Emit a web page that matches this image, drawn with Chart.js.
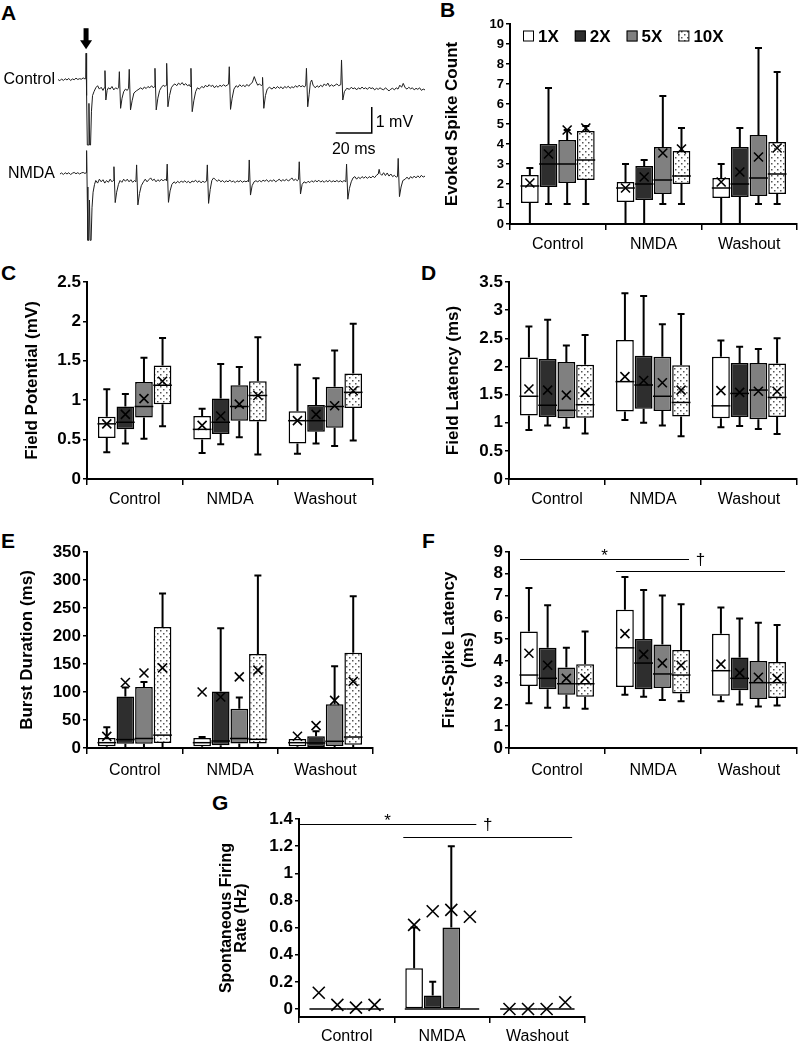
<!DOCTYPE html>
<html><head><meta charset="utf-8">
<script src="https://cdn.jsdelivr.net/npm/chart.js@4.4.1/dist/chart.umd.min.js"></script>
<style>
body{margin:0;background:#fff;width:800px;height:1046px;position:relative;overflow:hidden;font-family:'Liberation Sans',Arial,sans-serif;}
canvas{position:absolute;}
.lbl{position:absolute;font:bold 21px 'Liberation Sans',Arial,sans-serif;line-height:21px;color:#000;}
</style></head><body>
<div class="lbl" style="left:1px;top:2px">A</div>
<div class="lbl" style="left:440px;top:-1px">B</div>
<div class="lbl" style="left:1px;top:262px">C</div>
<div class="lbl" style="left:421px;top:262px">D</div>
<div class="lbl" style="left:1px;top:530px">E</div>
<div class="lbl" style="left:422px;top:530px">F</div>
<div class="lbl" style="left:212px;top:792px">G</div>
<canvas id="cA" width="440" height="230" style="left:0;top:20px"></canvas>
<canvas id="cB" width="360" height="262" style="left:440px;top:0"></canvas>
<canvas id="cC" width="380" height="258" style="left:0;top:262px"></canvas>
<canvas id="cD" width="400" height="258" style="left:400px;top:262px"></canvas>
<canvas id="cE" width="380" height="258" style="left:0;top:530px"></canvas>
<canvas id="cF" width="400" height="258" style="left:400px;top:530px"></canvas>
<canvas id="cG" width="400" height="256" style="left:200px;top:790px"></canvas>
<script>
// ---------------- DATA ----------------
const groups = ['Control', 'NMDA', 'Washout'];
const doses = ['1X', '2X', '5X', '10X'];
const traceNames = ['Control', 'NMDA'];

// Panel A traces: [time ms, voltage mV]
const ctrlTrace = [[0,0.02],[1,-0.03],[2,0.04],[3,-0.02],[4,0.05],[5,0.0],[6,0.06],[7,-0.02],[8,0.04],[9,0.01],[10,0.07],[11,0.02],[12,0.05],[13,0.03],[14,0.08],[15,0.04],
[15.4,0.05],[15.6,1.03],[15.9,-0.6],[16.3,-2.5],[16.8,-2.5],[17.2,-0.9],[17.6,-2.5],[18.1,-2.5],[18.6,-1.2],[19.2,-0.6],[20,-0.45],[21,-0.3],[22,-0.22],[23,-0.35],[24,-0.28],[25,-0.4],[25.7,-0.3],
[26.1,0.36],[26.6,-0.77],[27.3,-0.4],[28,-0.3],[29,-0.35],[30,-0.25],[31,-0.38],[32,-0.3],[33,-0.34],[33.7,-0.3],
[34.1,0.32],[34.8,-1.09],[35.6,-0.7],[36.5,-0.45],[37.5,-0.35],[38.5,-0.4],[39.2,-0.32],
[39.6,0.41],[40.3,-1.15],[41.2,-0.8],[42.2,-0.5],[43.5,-0.42],[45,-0.35],[46,-0.3],[47,-0.36],[48,-0.27],[49,-0.33],[50,-0.25],[51,-0.3],[52,-0.22],[53,-0.3],[53.5,-0.26],
[53.9,0.45],[54.6,-1.15],[55.5,-0.7],[56.5,-0.4],[57.5,-0.28],[58.5,-0.2],[59.5,-0.25],[60.1,-0.2],
[60.4,0.64],[61.1,-1.03],[62,-0.6],[63,-0.3],[64,-0.2],[65,-0.15],[66,-0.22],[67,-0.12],[68,-0.18],[69,-0.1],[70,-0.2],[71,-0.14],[72,-0.22],[73,-0.18],[73.5,-0.25],
[73.9,0.45],[74.6,-1.22],[75.5,-0.8],[76.5,-0.45],[77.5,-0.3],[78.5,-0.35],[80,-0.25],[81,-0.3],[82,-0.2],[83,-0.27],[84,-0.18],[85,-0.25],[86,-0.2],[87,-0.3],[88,-0.22],[89,-0.28],[90,-0.2],[91,-0.25],[92,-0.18],[93,-0.24],[94,-0.2],[94.8,-0.16],
[95.2,0.51],[95.9,-1.13],[96.8,-0.7],[97.8,-0.35],[99,-0.22],[100,-0.28],[101,-0.18],[102,-0.25],[103,-0.2],[104,-0.26],[105,-0.17],[106,-0.24],[107,-0.15],[108,-0.1],[109.1,0.13],[110,-0.05],[111,-0.2],[112,-0.15],[113,-0.22],[113.4,-0.18],
[113.7,0.1],[114.4,-1.09],[115.3,-0.6],[116.3,-0.35],[117.5,-0.28],[119,-0.35],[120,-0.27],[121,-0.33],[122,-0.25],[123,-0.32],[124,-0.26],[125,-0.34],[126,-0.25],[127,-0.3],[128,-0.24],[129,-0.32],[130,-0.26],[131,-0.3],[132,-0.22],[133,-0.28],[134,-0.2],[135,-0.26],[136,-0.22],[137,-0.27],[137.7,-0.2],
[138.1,0.45],[138.8,-1.03],[139.6,-0.55],[140.3,-0.1],[141,0.0],[141.8,-0.2],[143,-0.3],[144,-0.22],[145,-0.28],[146,-0.2],[147,-0.26],[148,-0.15],[149,-0.22],[150,-0.12],[151,-0.25],[152,-0.18],[153,-0.24],[154,-0.2],[155,-0.15],[156,-0.22],[157.2,-0.18],
[157.6,0.77],[158.3,-0.77],[159.2,-0.45],[160.5,-0.32],[162,-0.36],[163,-0.28],[164,-0.34],[165,-0.3],[166,-0.38],[167,-0.3],[168,-0.35],[169,-0.27],[170,-0.34],[171,-0.3],[172,-0.36],[173,-0.28],[174,-0.33],[175,-0.3],[176,-0.38],[177,-0.32],[178,-0.36],[179,-0.3],[180,-0.35],[181,-0.38],[182,-0.3],[183,-0.36],[184,-0.42],[185,-0.35],[186,-0.32],[187,-0.38],[188,-0.3],[189,-0.35],[190,-0.2],[191,-0.28],[191.9,-0.13],[193,-0.3],[194,-0.35],[195,-0.28],[196,-0.34],[197,-0.3],[198,-0.38],[199,-0.32],[200,-0.36],[201,-0.3],[202,-0.4],[203,-0.35],[204,-0.38]];

const nmdaTrace = [[1.1,0.0],[2,0.04],[3,-0.02],[4,0.05],[5,0.0],[6,0.05],[7,-0.02],[8,0.03],[9,0.06],[10,0.01],[11,0.05],[12,0.0],[13,0.04],[14,0.06],[15,0.02],[15.6,0.05],
[15.9,0.9],[16.2,-0.5],[16.6,-2.55],[17.1,-2.55],[17.5,-1.0],[17.9,-2.55],[18.4,-2.55],[18.9,-1.3],[19.5,-0.7],[20.3,-0.4],[21,-0.25],[22,-0.35],[23,-0.2],[24,-0.3],[25,-0.22],[26,-0.35],[27,-0.25],[28,-0.32],[29,-0.2],[30,-0.3],[30.7,-0.25],
[31.1,0.28],[31.8,-1.1],[32.6,-0.7],[33.6,-0.4],[34.5,-0.25],[35.5,-0.32],[36.5,-0.2],[37.5,-0.28],[38.5,-0.2],[39.5,-0.3],[40.5,-0.22],[41.5,-0.32],[42.5,-0.25],[43.3,-0.3],
[43.7,0.35],[44.4,-1.19],[45.3,-0.75],[46.3,-0.45],[47.5,-0.3],[48.5,-0.2],[49.5,-0.3],[50.5,-0.22],[51.5,-0.15],[52.5,-0.25],[53.5,-0.2],[54.5,-0.3],[55.5,-0.22],[56.5,-0.28],[57.5,-0.2],[58.5,-0.27],[59.5,-0.2],[60.3,-0.26],
[60.7,0.38],[61.4,-1.09],[62.3,-0.65],[63.3,-0.4],[64.5,-0.3],[65.5,-0.36],[66.5,-0.28],[67.5,-0.34],[68.5,-0.27],[69.5,-0.32],[70.5,-0.26],[71.5,-0.33],[72.5,-0.28],[73.5,-0.35],[74.5,-0.27],[75.5,-0.3],[76.5,-0.24],[77.5,-0.32],[78.5,-0.26],[79.5,-0.34],[80.5,-0.28],[81.5,-0.32],[82.6,-0.27],
[83,0.35],[83.7,-1.13],[84.6,-0.6],[85.5,-0.25],[86.5,-0.15],[87.5,-0.22],[88.5,-0.28],[89.5,-0.22],[90.5,-0.3],[91.5,-0.25],[92.5,-0.32],[93.5,-0.26],[94.5,-0.3],[95.5,-0.24],[96.5,-0.3],[97.5,-0.27],[98.5,-0.33],[99.5,-0.26],[100.5,-0.3],[101.5,-0.25],[102.5,-0.32],[103.5,-0.27],[104.5,-0.3],[105.5,-0.26],[105.9,-0.3],
[106.3,0.54],[107,-0.81],[107.9,-0.45],[109,-0.3],[110,-0.26],[111,-0.3],[112,-0.25],[113,-0.3],[114,-0.24],[115,-0.28],[116,-0.22],[117,-0.3],[118,-0.24],[119,-0.28],[120,-0.22],[121,-0.3],[122,-0.25],[123,-0.2],[124,-0.28],[125,-0.22],[126,-0.26],[127,-0.2],[128,-0.27],[129,-0.22],[130,-0.15],[131,-0.25],[132,-0.2],[133,-0.26],[133.7,-0.2],
[134.1,0.47],[134.8,-0.77],[135.7,-0.4],[136.8,-0.3],[138,-0.35],[139,-0.28],[140,-0.33],[141,-0.26],[142,-0.31],[143,-0.25],[144,-0.3],[145,-0.24],[146,-0.31],[147,-0.26],[148,-0.32],[149,-0.25],[150,-0.3],[151,-0.24],[152,-0.31],[153,-0.26],[154,-0.3],[155,-0.25],[156,-0.3],[157,-0.26],[158,-0.31],[159,-0.25],[160,-0.3],
[160.4,0.38],[161.1,-0.97],[162,-0.55],[163,-0.3],[164,-0.15],[165,-0.1],[166,-0.2],[167,-0.12],[168,-0.18],[169,-0.1],[170,-0.16],[171,-0.1],[172,-0.17],[173,-0.1],[174,-0.15],[175,-0.08],[176,-0.14],[177,-0.05],[178,0.0],[178.5,0.18],[179,0.02],[180,-0.05],[181,0.05],[182,-0.06],[183,0.04],[184,-0.08],[185,0.0],[186,-0.1],[187,-0.05],[188,-0.12],[188.7,-0.1],
[189.1,0.6],[189.8,-0.87],[190.7,-0.5],[191.7,-0.25],[193,-0.2],[194,-0.12],[195,-0.2],[196,-0.1],[197,-0.16],[198,-0.08],[199,-0.15],[200,-0.07],[201,-0.14],[202,-0.05],[203,-0.12],[204,-0.08]];

// Box-plot statistics: rows = doses (1X,2X,5X,10X), columns = groups (Control,NMDA,Washout)
// B: Evoked Spike Count
const spikeMin  = [[0,0,0],[1,0,0],[1,1,1],[1,1,1]];
const spikeQ1   = [[1.05,1.1,1.3],[1.85,1.2,1.35],[2.05,1.5,1.4],[2.2,2.0,1.5]];
const spikeMed  = [[1.9,1.8,1.8],[3.0,2.0,2.0],[3.0,2.2,2.3],[3.2,2.4,2.5]];
const spikeQ3   = [[2.45,2.1,2.3],[4.0,2.9,3.85],[4.2,3.85,4.45],[4.65,3.65,4.1]];
const spikeMax  = [[2.8,3.0,3.0],[6.8,3.2,4.8],[4.7,6.4,8.8],[4.9,4.8,7.6]];
const spikeMean = [[2.05,1.8,2.1],[3.5,2.35,2.6],[4.7,3.55,3.35],[4.8,3.75,3.8]];
// C: Field Potential (mV)
const fpMin  = [[0.34,0.33,0.32],[0.45,0.44,0.45],[0.51,0.53,0.42],[0.67,0.31,0.49]];
const fpQ1   = [[0.52,0.50,0.45],[0.63,0.57,0.60],[0.78,0.74,0.65],[0.95,0.73,0.90]];
const fpMed  = [[0.70,0.63,0.74],[0.72,0.72,0.74],[0.92,0.92,0.92],[1.19,1.06,1.10]];
const fpQ3   = [[0.79,0.80,0.86],[0.92,1.02,0.94],[1.23,1.19,1.17],[1.44,1.24,1.34]];
const fpMax  = [[1.14,0.89,1.45],[1.08,1.46,1.28],[1.54,1.42,1.63],[1.79,1.80,1.97]];
const fpMean = [[0.70,0.68,0.74],[0.82,0.80,0.82],[1.02,0.95,0.93],[1.24,1.06,1.12]];
// D: Field Latency (ms)
const flMin  = [[0.87,1.05,0.92],[0.95,1.0,0.94],[0.91,0.95,0.89],[0.81,0.76,0.80]];
const flQ1   = [[1.13,1.20,1.08],[1.10,1.25,1.10],[1.08,1.21,1.06],[1.09,1.11,1.10]];
const flMed  = [[1.47,1.73,1.30],[1.31,1.67,1.52],[1.22,1.47,1.58],[1.32,1.36,1.45]];
const flQ3   = [[2.16,2.47,2.17],[2.13,2.19,2.06],[2.08,2.17,2.06],[2.03,2.02,2.05]];
const flMax  = [[2.71,3.30,2.46],[2.83,3.25,2.35],[2.37,2.75,2.31],[2.56,2.93,2.50]];
const flMean = [[1.60,1.82,1.57],[1.58,1.75,1.54],[1.49,1.71,1.56],[1.54,1.58,1.56]];
// E: Burst Duration (ms)
const bdMin  = [[0,0,0],[0,0,0],[0,0,0],[0,0,0]];
const bdQ1   = [[3,3,3],[7.7,5,2],[7.7,8,3.5],[9,8,6]];
const bdMed  = [[9.5,9.5,9.5],[15,12.5,9],[17,17,12],[23,15.5,19.6]];
const bdQ3   = [[18,18,16],[92,101,21],[109,70,78],[216,168,170]];
const bdMax  = [[37,19.6,16],[108,214,30],[118,90,146],[276,308,271]];
const bdMean = [[20.8,100,21],[117,91,40],[134,127,85],[143,139,119]];
// F: First-Spike Latency (ms)
const fsMin  = [[2.05,2.45,2.15],[1.85,2.35,2.0],[1.85,2.2,1.9],[1.8,2.15,1.95]];
const fsQ1   = [[2.85,2.8,2.4],[2.7,2.7,2.65],[2.45,2.75,2.25],[2.35,2.5,2.3]];
const fsMed  = [[3.35,4.6,3.55],[3.2,3.9,3.2],[2.95,3.4,3.0],[2.95,3.35,3.0]];
const fsQ3   = [[5.35,6.35,5.25],[4.6,5.0,4.15],[3.7,4.75,4.0],[3.85,4.5,3.95]];
const fsMax  = [[7.35,7.85,6.45],[6.55,7.25,5.95],[4.6,7.0,5.75],[5.35,6.6,5.65]];
const fsMean = [[4.35,5.25,3.85],[3.8,4.3,3.45],[3.2,3.9,3.25],[3.2,3.8,3.2]];
// G: Spontaneous Firing Rate (Hz)
const sfMin  = [[0,0,0],[0,0,0],[0,0,0],[0,0,0]];
const sfQ1   = [[0,0,0],[0,0,0],[0,0,0],[0,0,0]];
const sfMed  = [[0,0,0],[0,0,0],[0,0,0],[0,0,0]];
const sfQ3   = [[0,0.3,0],[0,0.1,0],[0,0.6,0],[0,0,0]];
const sfMax  = [[0,0.6,0],[0,0.2,0],[0,1.2,0],[0,0,0]];
const sfMean = [[0.12,0.62,0.0],[0.03,0.72,0.0],[0.01,0.73,0.0],[0.03,0.68,0.05]];

// ---------------- RENDERING ----------------
const FONT = "'Liberation Sans', Arial, sans-serif";
Chart.defaults.font.family = FONT;
Chart.defaults.color = '#000';

function dotPattern(ctx) {
  const pc = document.createElement('canvas'); pc.width = 6; pc.height = 6;
  const p = pc.getContext('2d');
  p.fillStyle = '#fff'; p.fillRect(0, 0, 6, 6);
  p.fillStyle = '#555'; p.fillRect(1, 1, 1.5, 1.5); p.fillRect(4, 4, 1.5, 1.5);
  return ctx.createPattern(pc, 'repeat');
}

const boxPlugin = {
  id: 'boxPlot',
  beforeDatasetsDraw(chart) {
    const { ctx } = chart; const y = chart.scales.y;
    ctx.save(); ctx.strokeStyle = '#000'; ctx.lineWidth = 2;
    chart.data.datasets.forEach((ds, di) => {
      chart.getDatasetMeta(di).data.forEach((bar, i) => {
        const [q1, q3] = ds.data[i];
        const seg = (from, to) => {
          if (Math.abs(to - from) < 1e-9) return;
          const y1 = y.getPixelForValue(from), y2 = y.getPixelForValue(to);
          ctx.beginPath(); ctx.moveTo(bar.x, y1); ctx.lineTo(bar.x, y2);
          ctx.moveTo(bar.x - 3.5, y2); ctx.lineTo(bar.x + 3.5, y2); ctx.stroke();
        };
        seg(q3, ds.whiskerMax[i]); seg(q1, ds.whiskerMin[i]);
      });
    });
    ctx.restore();
  },
  afterDatasetsDraw(chart, args, opts) {
    const { ctx } = chart; const y = chart.scales.y; const s = opts.mark || 4.5;
    ctx.save(); ctx.strokeStyle = '#000';
    chart.data.datasets.forEach((ds, di) => {
      chart.getDatasetMeta(di).data.forEach((bar, i) => {
        const ym = y.getPixelForValue(ds.median[i]);
        ctx.lineWidth = 1.5;
        ctx.beginPath(); ctx.moveTo(bar.x - bar.width / 2 - 0.5, ym); ctx.lineTo(bar.x + bar.width / 2 + 0.5, ym); ctx.stroke();
        const yy = y.getPixelForValue(ds.mean[i]);
        ctx.lineWidth = 1.6;
        ctx.beginPath();
        ctx.moveTo(bar.x - s, yy - s); ctx.lineTo(bar.x + s, yy + s);
        ctx.moveTo(bar.x - s, yy + s); ctx.lineTo(bar.x + s, yy - s);
        ctx.stroke();
      });
    });
    ctx.restore();
  }
};

const legendPlugin = {
  id: 'boxLegend',
  afterDraw(chart, args, opts) {
    if (!opts.show) return;
    const { ctx } = chart;
    let x = chart.chartArea.left + opts.dx; const yc = chart.chartArea.top + opts.dy;
    ctx.save(); ctx.font = 'bold 17px ' + FONT; ctx.textBaseline = 'middle'; ctx.textAlign = 'left';
    chart.data.datasets.forEach(ds => {
      ctx.fillStyle = ds.backgroundColor; ctx.fillRect(x, yc - 5.5, 11, 11);
      ctx.strokeStyle = '#000'; ctx.lineWidth = 1; ctx.strokeRect(x + 0.5, yc - 5, 10, 10);
      ctx.fillStyle = '#000'; ctx.fillText(ds.label, x + 15, yc + 1);
      x += 15 + ctx.measureText(ds.label).width + 16;
    });
    ctx.restore();
  }
};

const sigPlugin = {
  id: 'sig',
  afterDatasetsDraw(chart, args, opts) {
    if (!opts.lines) return;
    const { ctx } = chart; const x = chart.scales.x, y = chart.scales.y;
    ctx.save(); ctx.strokeStyle = '#000'; ctx.fillStyle = '#000'; ctx.lineWidth = 1;
    ctx.font = '17px ' + FONT; ctx.textAlign = 'center'; ctx.textBaseline = 'alphabetic';
    opts.lines.forEach(l => {
      const x1 = x.getPixelForValue(l.x1), x2 = x.getPixelForValue(l.x2);
      const yy = Math.round(y.getPixelForValue(l.y)) + 0.5;
      ctx.beginPath(); ctx.moveTo(x1, yy); ctx.lineTo(x2, yy); ctx.stroke();
      if (l.mid) ctx.fillText(l.mid, (x1 + x2) / 2, yy + 1.5);
      if (l.end) ctx.fillText(l.end, x2 + 11.5, yy + 5);
    });
    ctx.restore();
  }
};

function makeBoxChart(p) {
  const canvas = document.getElementById(p.id);
  const ctx = canvas.getContext('2d');
  const fills = ['#ffffff', '#2e2e2e', '#808080', dotPattern(ctx)];
  const datasets = doses.map((d, k) => ({
    label: d,
    data: groups.map((g, i) => [p.q1[k][i], p.q3[k][i]]),
    backgroundColor: fills[k], borderColor: '#000', borderWidth: 1.5, borderSkipped: false,
    whiskerMin: p.min[k], whiskerMax: p.max[k], median: p.med[k], mean: p.mean[k],
    categoryPercentage: 0.78, barPercentage: 0.95
  }));
  return new Chart(ctx, {
    type: 'bar',
    data: { labels: groups, datasets },
    options: {
      responsive: false, animation: false, devicePixelRatio: 1,
      layout: { padding: { left: p.pl, right: p.pr, top: p.pt, bottom: 0 } },
      scales: {
        x: {
          afterFit: s => { s.height = p.xh; },
          grid: { offset: true, drawOnChartArea: false, drawTicks: true, tickLength: 6, color: '#000', lineWidth: 1.5 },
          border: { display: true, color: '#000', width: 2 },
          ticks: { font: { size: 16 }, color: '#000', padding: p.xpad, maxRotation: 0 }
        },
        y: {
          min: p.yMin || 0, max: p.yMax,
          afterFit: s => { s.width = p.yw; },
          afterBuildTicks: s => { s.ticks = s.ticks.filter(t => t.value >= -1e-9); },
          grid: { drawOnChartArea: false, drawTicks: true, tickLength: 4, color: '#000', lineWidth: 1.5 },
          border: { display: true, color: '#000', width: 2 },
          ticks: { stepSize: p.step, autoSkip: false, includeBounds: false, font: { size: p.tickSize, weight: 'bold' }, color: '#000', padding: 2,
                   callback: v => String(+(Math.abs(v) < 1e-9 ? 0 : v).toFixed(2)) },
          title: { display: true, text: p.title, color: '#000', padding: { top: 0, bottom: 0 },
                   font: { size: p.titleSize || 17, weight: 'bold', lineHeight: p.lh || 1.2 } }
        }
      },
      plugins: {
        legend: { display: false }, tooltip: { enabled: false },
        boxPlot: { mark: p.mark },
        boxLegend: { show: !!p.legend, dx: 13, dy: 12 },
        sig: { lines: p.sig }
      }
    },
    plugins: [boxPlugin, legendPlugin, sigPlugin]
  });
}

makeBoxChart({ id: 'cB', min: spikeMin, q1: spikeQ1, med: spikeMed, q3: spikeQ3, max: spikeMax, mean: spikeMean,
  yMax: 10, step: 1, title: 'Evoked Spike Count', tickSize: 13, pl: 2, yw: 68, pr: 3, pt: 24, xh: 38, xpad: 5, legend: true });
makeBoxChart({ id: 'cC', min: fpMin, q1: fpQ1, med: fpMed, q3: fpQ3, max: fpMax, mean: fpMean,
  yMax: 2.5, step: 0.5, title: 'Field Potential (mV)', tickSize: 17, pl: 22, yw: 65, pr: 7, pt: 20, xh: 41, xpad: 5 });
makeBoxChart({ id: 'cD', min: flMin, q1: flQ1, med: flMed, q3: flQ3, max: flMax, mean: flMean,
  yMax: 3.5, step: 0.5, title: 'Field Latency (ms)', tickSize: 17, pl: 43, yw: 66, pr: 3, pt: 20, xh: 41, xpad: 5 });
makeBoxChart({ id: 'cE', min: bdMin, q1: bdQ1, med: bdMed, q3: bdQ3, max: bdMax, mean: bdMean,
  yMax: 350, step: 50, title: 'Burst Duration (ms)', tickSize: 17, pl: 17, yw: 70, pr: 7, pt: 22, xh: 40, xpad: 7 });
makeBoxChart({ id: 'cF', min: fsMin, q1: fsQ1, med: fsMed, q3: fsQ3, max: fsMax, mean: fsMean,
  yMax: 9, step: 1, title: ['First-Spike Latency', '(ms)'], lh: 1.12, tickSize: 17, pl: 40, yw: 69, pr: 3, pt: 22, xh: 40, xpad: 7,
  sig: [{ x1: -0.385, x2: 1.375, y: 8.7, mid: '*', end: '\u2020' }, { x1: 0.615, x2: 2.375, y: 8.12 }] });
makeBoxChart({ id: 'cG', min: sfMin, q1: sfQ1, med: sfMed, q3: sfQ3, max: sfMax, mean: sfMean,
  yMin: -0.059, yMax: 1.4, step: 0.2, title: ['Spontaneous Firing', 'Rate (Hz)'], titleSize: 16, lh: 0.96, tickSize: 17, pl: 19, yw: 80, pr: 15, pt: 29, xh: 29, xpad: 4, mark: 6,
  sig: [{ x1: -0.5, x2: 1.36, y: 1.36, mid: '*', end: '\u2020' }, { x1: 0.594, x2: 2.365, y: 1.265 }] });

// Panel A
const tracePlugin = {
  id: 'traceDeco',
  afterDraw(chart) {
    const { ctx } = chart; const x = chart.scales.x, y = chart.scales.y, y2 = chart.scales.y2;
    ctx.save(); ctx.fillStyle = '#000'; ctx.strokeStyle = '#000';
    ctx.font = '16px ' + FONT; ctx.textAlign = 'right'; ctx.textBaseline = 'middle';
    ctx.fillText(traceNames[0], chart.chartArea.left - 3, y.getPixelForValue(0));
    ctx.fillText(traceNames[1], chart.chartArea.left - 3, y2.getPixelForValue(0));
    const ax = x.getPixelForValue(15.6), top = y.getPixelForValue(1.03);
    ctx.fillRect(ax - 2.5, top - 25, 5, 13);
    ctx.beginPath(); ctx.moveTo(ax - 6, top - 13); ctx.lineTo(ax + 6, top - 13); ctx.lineTo(ax, top - 4); ctx.closePath(); ctx.fill();
    const xa = x.getPixelForValue(154.4), xb = x.getPixelForValue(174.4);
    const yb = y.getPixelForValue(-2.04), yt = y.getPixelForValue(-1.04);
    ctx.lineWidth = 1.5; ctx.beginPath(); ctx.moveTo(xa, yb); ctx.lineTo(xb, yb); ctx.lineTo(xb, yt); ctx.stroke();
    ctx.textAlign = 'left'; ctx.fillText('1 mV', xb + 4, yb - 10);
    ctx.textAlign = 'center'; ctx.fillText('20 ms', (xa + xb) / 2, yb + 17);
    ctx.restore();
  }
};
new Chart(document.getElementById('cA'), {
  type: 'line',
  data: { datasets: [
    { label: traceNames[0], data: ctrlTrace.map(([t, v]) => ({ x: t, y: v })), yAxisID: 'y', borderColor: '#1e1e1e', borderWidth: 1, pointRadius: 0, tension: 0 },
    { label: traceNames[1], data: nmdaTrace.map(([t, v]) => ({ x: t, y: v })), yAxisID: 'y2', borderColor: '#1e1e1e', borderWidth: 1, pointRadius: 0, tension: 0 }
  ] },
  options: {
    responsive: false, animation: false, devicePixelRatio: 1,
    layout: { padding: { left: 58, right: 15, top: 25, bottom: 5 } },
    scales: {
      x: { type: 'linear', display: false, min: 0, max: 204 },
      y: { type: 'linear', display: false, min: -6.346, max: 1.346 },
      y2: { type: 'linear', display: false, min: -2.73, max: 4.96 }
    },
    plugins: { legend: { display: false }, tooltip: { enabled: false } }
  },
  plugins: [tracePlugin]
});
</script>
</body></html>
